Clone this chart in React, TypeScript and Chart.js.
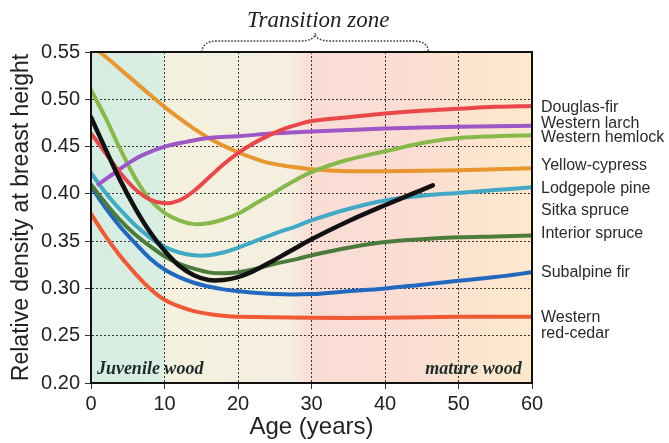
import React, { useEffect, useRef } from 'react';
import { Chart, registerables } from 'chart.js';

Chart.register(...registerables);

// ---- Data ----
const xTickValues = [0, 10, 20, 30, 40, 50, 60];
const yTickValues = [0.2, 0.25, 0.3, 0.35, 0.4, 0.45, 0.5, 0.55];

const douglasFirAge = [0, 2, 4, 6, 8, 10, 12, 14, 16, 18, 20, 22, 24, 26, 28, 30, 35, 40, 45, 50, 55, 60];
const douglasFirDensity = [0.464, 0.443, 0.422, 0.405, 0.394, 0.39, 0.393, 0.403, 0.417, 0.431, 0.443, 0.453, 0.461, 0.468, 0.473, 0.477, 0.481, 0.485, 0.488, 0.49, 0.492, 0.493];

const westernLarchAge = [1, 3, 5, 7, 10, 13, 16, 20, 25, 30, 40, 50, 60];
const westernLarchDensity = [0.41, 0.421, 0.432, 0.441, 0.45, 0.455, 0.459, 0.461, 0.464, 0.466, 0.469, 0.471, 0.472];

const westernHemlockAge = [0, 2, 4, 6, 8, 10, 12, 14, 16, 18, 20, 22, 24, 27, 30, 34, 40, 46, 50, 55, 60];
const westernHemlockDensity = [0.51, 0.48, 0.447, 0.417, 0.394, 0.38, 0.372, 0.368, 0.369, 0.373, 0.379, 0.388, 0.397, 0.411, 0.423, 0.434, 0.445, 0.455, 0.459, 0.461, 0.462];

const yellowCypressAge = [0, 2, 5, 8, 10, 12, 14, 16, 18, 20, 22, 24, 27, 30, 35, 40, 50, 60];
const yellowCypressDensity = [0.557, 0.545, 0.525, 0.505, 0.492, 0.48, 0.469, 0.459, 0.451, 0.444, 0.438, 0.433, 0.429, 0.426, 0.424, 0.424, 0.425, 0.427];

const lodgepolePineAge = [0, 2, 4, 6, 8, 10, 12, 14, 16, 18, 20, 22, 25, 28, 30, 35, 40, 45, 50, 55, 60];
const lodgepolePineDensity = [0.422, 0.401, 0.383, 0.367, 0.354, 0.344, 0.338, 0.335, 0.335, 0.338, 0.343, 0.349, 0.358, 0.366, 0.372, 0.384, 0.393, 0.398, 0.401, 0.404, 0.407];

const sitkaSpruceAge = [0, 2, 4, 6, 8, 10, 12, 14, 16, 18, 20, 22, 24, 27, 30, 35, 40, 46.5];
const sitkaSpruceDensity = [0.481, 0.447, 0.414, 0.385, 0.36, 0.34, 0.324, 0.314, 0.309, 0.309, 0.312, 0.318, 0.326, 0.339, 0.352, 0.371, 0.388, 0.409];

const interiorSpruceAge = [0, 2, 4, 6, 8, 10, 12, 14, 16, 18, 20, 22, 25, 28, 30, 35, 40, 45, 50, 55, 60];
const interiorSpruceDensity = [0.41, 0.39, 0.372, 0.357, 0.345, 0.334, 0.326, 0.321, 0.317, 0.316, 0.317, 0.32, 0.326, 0.331, 0.335, 0.343, 0.349, 0.352, 0.354, 0.355, 0.356];

const subalpineFirAge = [0, 2, 4, 6, 8, 10, 12, 14, 16, 18, 20, 25, 30, 35, 40, 45, 50, 55, 60];
const subalpineFirDensity = [0.408, 0.385, 0.365, 0.348, 0.332, 0.32, 0.312, 0.306, 0.302, 0.299, 0.297, 0.294, 0.294, 0.297, 0.3, 0.304, 0.308, 0.312, 0.317];

const redCedarAge = [0, 2, 4, 6, 8, 10, 12, 14, 16, 18, 20, 30, 40, 50, 60];
const redCedarDensity = [0.379, 0.355, 0.334, 0.316, 0.3, 0.288, 0.281, 0.276, 0.273, 0.271, 0.27, 0.269, 0.269, 0.27, 0.27];

// Right-hand species labels and the density level at which each label sits
const speciesLabels = ['Douglas-fir', 'Western larch', 'Western hemlock', 'Yellow-cypress', 'Lodgepole pine', 'Sitka spruce', 'Interior spruce', 'Subalpine fir', 'Western\nred-cedar'];
const speciesLabelLevels = [0.4907, 0.4748, 0.459, 0.4294, 0.406, 0.3818, 0.3575, 0.3163, 0.2608];

// Transition zone brace span (years)
const transitionStart = 15.1;
const transitionEnd = 45.9;

const SANS = '"Liberation Sans", Arial, sans-serif';
const SERIF = '"Liberation Serif", "Times New Roman", serif';

const toPoints = (xs: number[], ys: number[]) => xs.map((x, i) => ({ x, y: ys[i] }));

const series = [
  { label: 'Sitka spruce', xs: sitkaSpruceAge, ys: sitkaSpruceDensity, color: '#111111', width: 4.5 },
  { label: 'Douglas-fir', xs: douglasFirAge, ys: douglasFirDensity, color: '#ea474b', width: 4 },
  { label: 'Western larch', xs: westernLarchAge, ys: westernLarchDensity, color: '#9d57c6', width: 4 },
  { label: 'Western hemlock', xs: westernHemlockAge, ys: westernHemlockDensity, color: '#87b94a', width: 4 },
  { label: 'Yellow-cypress', xs: yellowCypressAge, ys: yellowCypressDensity, color: '#e9962f', width: 4 },
  { label: 'Lodgepole pine', xs: lodgepolePineAge, ys: lodgepolePineDensity, color: '#40a9c6', width: 4 },
  { label: 'Interior spruce', xs: interiorSpruceAge, ys: interiorSpruceDensity, color: '#4b7c3c', width: 4 },
  { label: 'Subalpine fir', xs: subalpineFirAge, ys: subalpineFirDensity, color: '#2168c0', width: 4 },
  { label: 'Western red-cedar', xs: redCedarAge, ys: redCedarDensity, color: '#ef5a35', width: 4 },
];

const backgroundPlugin = {
  id: 'zoneBackground',
  beforeDraw(chart: any) {
    const { ctx, chartArea } = chart;
    if (!chartArea) return;
    const { left, right, top, bottom } = chartArea;
    const g = ctx.createLinearGradient(left, 0, right, 0);
    g.addColorStop(0, '#d5ede1');
    g.addColorStop(0.165, '#daeee2');
    g.addColorStop(0.168, '#f4f1df');
    g.addColorStop(0.45, '#f4efe0');
    g.addColorStop(0.5, '#f9ddd4');
    g.addColorStop(0.72, '#fadcd3');
    g.addColorStop(0.86, '#fce4cf');
    g.addColorStop(1, '#fde9cc');
    ctx.save();
    ctx.fillStyle = g;
    ctx.fillRect(left, top, right - left, bottom - top);
    ctx.restore();
  },
};

const annotationPlugin = {
  id: 'annotations',
  afterDraw(chart: any) {
    const { ctx, chartArea, scales } = chart;
    const xs = scales.x;
    const ys = scales.y;
    const { left, right, top, bottom } = chartArea;
    ctx.save();

    // plot frame
    ctx.strokeStyle = '#111';
    ctx.lineWidth = 2;
    ctx.setLineDash([]);
    ctx.strokeRect(left, top, right - left, bottom - top);

    // wood labels
    ctx.fillStyle = '#1d2a2a';
    ctx.font = `italic bold 18px ${SERIF}`;
    ctx.textBaseline = 'alphabetic';
    ctx.textAlign = 'left';
    ctx.fillText('Juvenile wood', xs.getPixelForValue(0.8), ys.getPixelForValue(0.2097));
    ctx.textAlign = 'right';
    ctx.fillText('mature wood', xs.getPixelForValue(58.6), ys.getPixelForValue(0.2097));

    // species labels on the right
    ctx.fillStyle = '#2a2a2a';
    ctx.font = `16px ${SANS}`;
    ctx.textAlign = 'left';
    ctx.textBaseline = 'middle';
    speciesLabels.forEach((name, i) => {
      const cy = ys.getPixelForValue(speciesLabelLevels[i]);
      const lines = name.split('\n');
      const lh = 16;
      lines.forEach((ln, j) => {
        ctx.fillText(ln, right + 9, cy + (j - (lines.length - 1) / 2) * lh);
      });
    });

    // transition zone brace
    const x0 = xs.getPixelForValue(transitionStart);
    const x1 = xs.getPixelForValue(transitionEnd);
    const xm = (x0 + x1) / 2;
    const by = top - 11;
    ctx.strokeStyle = '#333';
    ctx.lineWidth = 1.5;
    ctx.setLineDash([1.6, 1.6]);
    ctx.beginPath();
    ctx.moveTo(x0, top);
    ctx.quadraticCurveTo(x0, by, x0 + 16, by);
    ctx.lineTo(xm - 16, by);
    ctx.quadraticCurveTo(xm, by, xm, by - 8);
    ctx.quadraticCurveTo(xm, by, xm + 16, by);
    ctx.lineTo(x1 - 16, by);
    ctx.quadraticCurveTo(x1, by, x1, top);
    ctx.stroke();
    ctx.setLineDash([]);

    ctx.fillStyle = '#222';
    ctx.font = `italic 23px ${SERIF}`;
    ctx.textAlign = 'center';
    ctx.textBaseline = 'alphabetic';
    ctx.fillText('Transition zone', xm + 3, 27);

    ctx.restore();
  },
};

export default function App() {
  const canvasRef = useRef<HTMLCanvasElement | null>(null);

  useEffect(() => {
    const canvas = canvasRef.current;
    if (!canvas) return;
    const chart = new Chart(canvas, {
      type: 'line',
      data: {
        datasets: series.map((s) => ({
          label: s.label,
          data: toPoints(s.xs, s.ys),
          borderColor: s.color,
          backgroundColor: s.color,
          borderWidth: s.width,
          pointRadius: 0,
          fill: false,
          tension: 0.4,
          borderCapStyle: 'round' as const,
          borderJoinStyle: 'round' as const,
        })),
      },
      options: {
        responsive: false,
        animation: false,
        devicePixelRatio: 1,
        layout: { padding: { top: 52, right: 137, left: 0, bottom: 0 } },
        plugins: {
          legend: { display: false },
          tooltip: { enabled: false },
        },
        scales: {
          x: {
            type: 'linear',
            min: 0,
            max: 60,
            afterFit: (s: any) => {
              s.height = 60;
            },
            afterBuildTicks: (s: any) => {
              s.ticks = xTickValues.map((v) => ({ value: v }));
            },
            ticks: {
              font: { family: SANS, size: 20 },
              color: '#222',
              padding: 3,
              maxRotation: 0,
              autoSkip: false,
            },
            grid: { color: '#333', lineWidth: 1, tickLength: 6, tickColor: '#333' },
            border: { display: true, color: '#111', width: 2, dash: [2, 2] },
            title: {
              display: true,
              text: 'Age (years)',
              font: { family: SANS, size: 24 },
              color: '#222',
              padding: { top: 0, bottom: 1 },
            },
          },
          y: {
            type: 'linear',
            min: 0.2,
            max: 0.55,
            afterFit: (s: any) => {
              s.width = 91;
            },
            afterBuildTicks: (s: any) => {
              s.ticks = yTickValues.map((v) => ({ value: v }));
            },
            ticks: {
              font: { family: SANS, size: 20 },
              color: '#222',
              padding: 5,
              autoSkip: false,
              callback: (v: any) => Number(v).toFixed(2),
            },
            grid: { color: '#333', lineWidth: 1, tickLength: 6, tickColor: '#333' },
            border: { display: true, color: '#111', width: 2, dash: [2, 2] },
            title: {
              display: true,
              text: 'Relative density at breast height',
              font: { family: SANS, size: 23 },
              color: '#222',
              padding: { top: 8, bottom: 0 },
            },
          },
        },
      },
      plugins: [backgroundPlugin, annotationPlugin],
    });
    return () => chart.destroy();
  }, []);

  return (
    <div style={{ position: 'absolute', left: 0, top: 0, width: 669, height: 443, background: '#fff' }}>
      <canvas ref={canvasRef} width={669} height={443} style={{ display: 'block' }} />
    </div>
  );
}
